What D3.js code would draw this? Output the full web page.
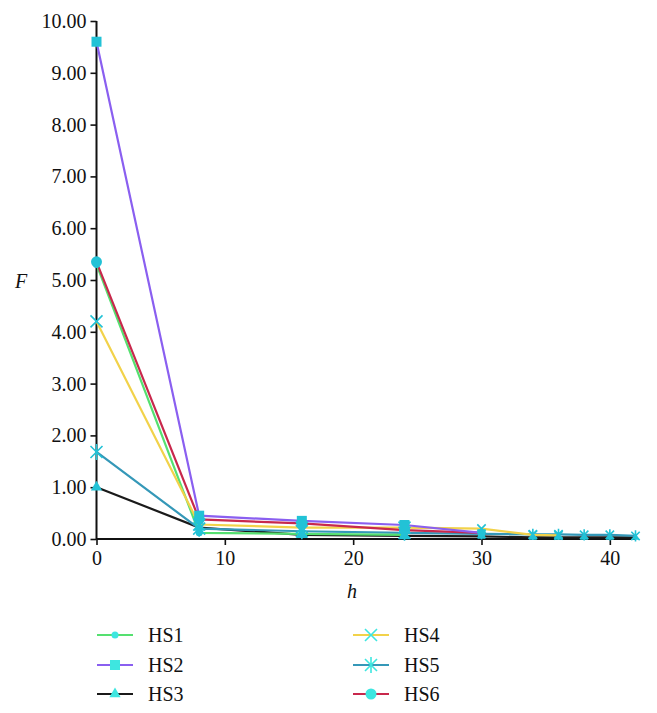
<html>
<head>
<script src="https://cdn.jsdelivr.net/npm/d3@7/dist/d3.min.js"></script>
</head>
<body style="margin:0">
<script>
var width = 657, height = 713;
var FONT = "Times New Roman, Liberation Serif, DejaVu Serif, serif";

// data
var names   = ["HS1", "HS2", "HS3", "HS4", "HS5", "HS6"];
var hs1X = [0, 8, 16, 24];
var hs1Y = [5.30, 0.12, 0.10, 0.08];
var hs2X = [0, 8, 16, 24, 30];
var hs2Y = [9.60, 0.45, 0.35, 0.27, 0.12];
var hs3X = [0, 8, 16, 24, 30, 34, 36, 38, 40, 42];
var hs3Y = [1.00, 0.22, 0.08, 0.06, 0.05, 0.03, 0.03, 0.03, 0.03, 0.03];
var hs4X = [0, 8, 16, 24, 30, 34, 36];
var hs4Y = [4.20, 0.28, 0.22, 0.22, 0.20, 0.08, 0.07];
var hs5X = [0, 8, 16, 24, 30, 34, 36, 38, 40, 42];
var hs5Y = [1.68, 0.20, 0.15, 0.12, 0.10, 0.09, 0.09, 0.08, 0.08, 0.06];
var hs6X = [0, 8, 16, 24, 30];
var hs6Y = [5.35, 0.38, 0.30, 0.17, 0.12];
var xTicks = [0, 10, 20, 30, 40];
var yTicks = [0, 1, 2, 3, 4, 5, 6, 7, 8, 9, 10];

var lineColors = ["#55e070", "#8a5ff0", "#1a1a1a", "#f2d24a", "#3598b8", "#c8284c"];
var shapes = ["circle", "square", "triangle", "cross", "star", "bigcircle"];
var markColor = "#22c2d6";

var allX = [hs1X, hs2X, hs3X, hs4X, hs5X, hs6X];
var allY = [hs1Y, hs2Y, hs3Y, hs4Y, hs5Y, hs6Y];

var svg = d3.select("body").append("svg")
            .attr("width", width)
            .attr("height", height)
            .attr("font-family", FONT);

var x = d3.scaleLinear().domain([0, 42]).range([96.5, 635.5]);
var y = d3.scaleLinear().domain([0, 10]).range([539, 21]);

function drawMarker(g, shape, cx, cy, col, sz){
    sz = sz || 1;
    if(shape == "circle"){
        g.append("circle").attr("cx", cx).attr("cy", cy).attr("r", 3.5*sz).attr("fill", col);
    }else if(shape == "bigcircle"){
        g.append("circle").attr("cx", cx).attr("cy", cy).attr("r", 5.5*sz).attr("fill", col);
    }else if(shape == "square"){
        g.append("rect").attr("x", cx-5*sz).attr("y", cy-5*sz).attr("width", 10*sz).attr("height", 10*sz).attr("fill", col);
    }else if(shape == "triangle"){
        g.append("path").attr("d", d3.symbol().type(d3.symbolTriangle).size(55*sz*sz)())
         .attr("transform", "translate(" + cx + "," + cy + ")").attr("fill", col);
    }else if(shape == "cross"){
        g.append("path").attr("d", "M-6,-6L6,6M-6,6L6,-6")
         .attr("transform", "translate(" + cx + "," + cy + ") scale(" + sz + ")")
         .attr("stroke", col).attr("stroke-width", 1.6/sz).attr("fill", "none");
    }else if(shape == "star"){
        g.append("path").attr("d", "M-6,-6L6,6M-6,6L6,-6M0,-8L0,8")
         .attr("transform", "translate(" + cx + "," + cy + ") scale(" + sz + ")")
         .attr("stroke", col).attr("stroke-width", 1.6/sz).attr("fill", "none");
    }
}

function label(px, py, str, anchor, italic){
    return svg.append("text").attr("x", px).attr("y", py)
              .attr("font-family", FONT).attr("font-size", 20)
              .attr("font-style", italic ? "italic" : "normal")
              .attr("text-anchor", anchor).attr("fill", "#111").text(str);
}

// axes
var yAxis = d3.axisLeft(y).tickValues(yTicks).tickSize(6).tickFormat(d3.format(".2f"));
var xAxis = d3.axisBottom(x).tickValues(xTicks).tickSize(6).tickFormat(d3.format("d"));

var gy = svg.append("g").attr("transform", "translate(" + x(0) + ",0)").call(yAxis);
var gx = svg.append("g").attr("transform", "translate(0," + y(0) + ")").call(xAxis);
[gy, gx].forEach(function(g){
    g.attr("font-family", FONT).attr("font-size", 20);
    g.select(".domain").attr("stroke", "#111").attr("stroke-width", 2);
    g.selectAll(".tick line").attr("stroke", "#111").attr("stroke-width", 1.6);
    g.selectAll(".tick text").attr("font-family", FONT).attr("font-size", 20).attr("fill", "#111");
});
gy.select(".domain").attr("d", "M0," + y(10) + "V" + y(0));
gx.select(".domain").attr("d", "M" + x(0) + ",0H" + x(42));
gy.selectAll(".tick text").attr("x", -10);
gx.selectAll(".tick text").attr("y", 12);

label(21, 288, "F", "middle", true);
label(352, 598, "h", "middle", true);

// lines
var line = d3.line().x(function(d){ return x(d[0]); }).y(function(d){ return y(d[1]); });
var order = [2, 4, 0, 3, 5, 1];
order.forEach(function(i){
    var pts = allX[i].map(function(v, j){ return [v, allY[i][j]]; });
    svg.append("path").datum(pts).attr("d", line)
       .attr("fill", "none").attr("stroke", lineColors[i]).attr("stroke-width", 2.2);
});
// markers (the later, overlapping ones drawn smaller)
var gm = svg.append("g");
order.forEach(function(i){
    allX[i].forEach(function(v, j){
        drawMarker(gm, shapes[i], x(v), y(allY[i][j]), markColor, j > 3 ? 0.7 : 1);
    });
});

// legend
var legX = [97, 353], legY = [635, 665, 694];
names.forEach(function(n, i){
    var lx = legX[Math.floor(i / 3)], ly = legY[i % 3];
    svg.append("line").attr("x1", lx).attr("x2", lx + 36).attr("y1", ly).attr("y2", ly)
       .attr("stroke", lineColors[i]).attr("stroke-width", 2);
    drawMarker(svg, shapes[i], lx + 18, ly, "#3ee6e0");
    label(lx + 51, ly + 7, n, "start", false);
});
</script>
</body>
</html>
